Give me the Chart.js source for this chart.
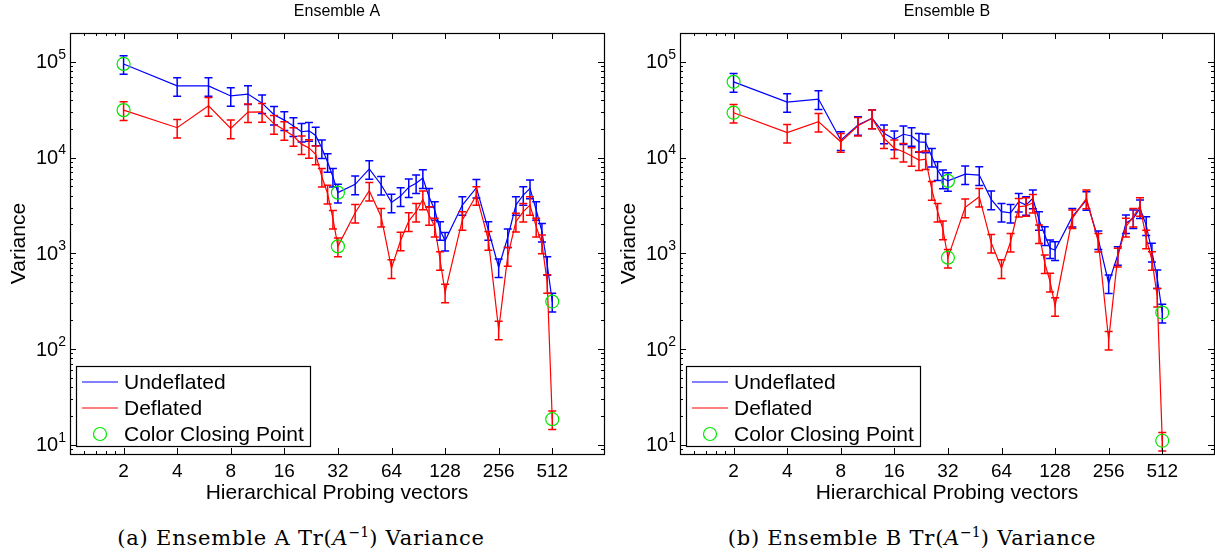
<!DOCTYPE html>
<html>
<head>
<meta charset="utf-8">
<script src="https://cdn.jsdelivr.net/npm/chart.js@4/dist/chart.umd.min.js"></script>
<style>
   body { margin: 0; background: #fff; width: 1215px; height: 554px; position: relative; overflow: hidden; }
   canvas { position: absolute; top: 0; }
   .caption { position: absolute; top: 524px; text-align: center; font-family: "DejaVu Serif", serif; font-size: 21px; letter-spacing: 0.8px; color: #000; white-space: nowrap; }
   .caption sup { font-size: 14px; letter-spacing: 0; }
</style>
</head>
<body>
<canvas id="chartA" width="606" height="515" style="left:0"></canvas>
<canvas id="chartB" width="606" height="515" style="left:610px"></canvas>
<div class="caption" style="left:0; width:602px">(a) Ensemble A Tr(<i>A</i><sup>−1</sup>) Variance</div>
<div class="caption" style="left:610px; width:604px">(b) Ensemble B Tr(<i>A</i><sup>−1</sup>) Variance</div>

<script>
// number of probing vectors at each measurement
const probes = [2, 4, 6, 8, 10, 12, 14, 16, 18, 20, 22, 24, 26, 28, 30, 32,
   40, 48, 56, 64, 72, 80, 88, 96, 104, 112, 120, 128,
   160, 192, 224, 256, 288, 320, 352, 384, 416, 448, 480, 512];
// probe counts where a colouring closes
const closingPoints = [2, 32, 512];
const xTicks = [2, 4, 8, 16, 32, 64, 128, 256, 512];
const xMinorTicks = [1.2, 1.4, 1.6, 1.8];
const yTickExps = [1, 2, 3, 4, 5];

// ensemble A variance
const undeflatedA = [95000, 56000, 56000, 44000, 46000, 37000, 28000, 24600, 21300, 18600, 19000, 17000, 12500, 9000, 6300, 4300,
   5250, 7600, 5200, 3400, 3960, 4900, 5400, 6100, 3900, 2830, 1750, 1350,
   3190, 4840, 1750, 714, 1470, 3190, 4060, 4770, 2830, 1680, 755, 313];
const deflatedA = [31300, 20500, 34700, 20200, 29800, 30000, 22500, 19400, 16800, 13800, 12600, 10800, 6300, 4200, 2300, 1180,
   2650, 4500, 2410, 700, 1360, 2170, 2720, 3660, 2510, 1900, 850, 390,
   2230, 4060, 1380, 160, 940, 2140, 2720, 3190, 1900, 1270, 490, 18.5];

// ensemble B variance
const undeflatedB = [61800, 38000, 40800, 15200, 21900, 25700, 17900, 15500, 17500, 16800, 14600, 14400, 10200, 7400, 6070, 5700,
   6700, 6560, 3660, 2720, 2650, 3460, 3190, 3750, 2230, 1550, 1130, 1080,
   2410, 3600, 1400, 487, 959, 2060, 2320, 2950, 1970, 1040, 548, 240];
const deflatedB = [29400, 18200, 23700, 14600, 21500, 25700, 15900, 12500, 11500, 10400, 9400, 9600, 4600, 2720, 1780, 900,
   3020, 3900, 1290, 700, 1320, 3060, 3120, 3370, 1620, 787, 506, 282,
   2320, 3750, 1320, 125, 923, 1900, 2410, 3120, 1430, 851, 352, 11];

// relative size of the error bars
const errFrac = 0.22;

const sans = "'Liberation Sans', Arial, sans-serif";

// axes box, ticks, labels, error bars and legend drawn in matlab style
const matlabAxes = {
   id: "matlabAxes",
   afterDatasetDraw(chart, args) {
      const ds = chart.data.datasets[args.index];
      if (!ds.errFrac) return;
      const { ctx, chartArea: a } = chart;
      const y = chart.scales.y;
      ctx.save();
      ctx.beginPath();
      ctx.rect(a.left, a.top, a.right - a.left, a.bottom - a.top);
      ctx.clip();
      ctx.strokeStyle = ds.borderColor;
      ctx.lineWidth = 1.5;
      args.meta.data.forEach((pt, i) => {
         const v = ds.data[i].y;
         const top = y.getPixelForValue(v * (1 + ds.errFrac));
         const bot = y.getPixelForValue(v * (1 - ds.errFrac));
         ctx.beginPath();
         ctx.moveTo(pt.x, top);
         ctx.lineTo(pt.x, bot);
         ctx.moveTo(pt.x - 4, top);
         ctx.lineTo(pt.x + 4, top);
         ctx.moveTo(pt.x - 4, bot);
         ctx.lineTo(pt.x + 4, bot);
         ctx.stroke();
      });
      ctx.restore();
   },
   afterDraw(chart, args, opts) {
      const { ctx, chartArea: a } = chart;
      const x = chart.scales.x;
      const y = chart.scales.y;
      const crisp = (v) => Math.round(v) + 0.5;
      ctx.save();

      // box
      ctx.strokeStyle = "#000";
      ctx.lineWidth = 1.2;
      ctx.strokeRect(crisp(a.left), crisp(a.top), Math.round(a.right - a.left), Math.round(a.bottom - a.top));

      // y ticks on both sides
      ctx.lineWidth = 1;
      const yTick = (v, len) => {
         const py = crisp(y.getPixelForValue(v));
         ctx.beginPath();
         ctx.moveTo(a.left, py);
         ctx.lineTo(a.left + len, py);
         ctx.moveTo(a.right, py);
         ctx.lineTo(a.right - len, py);
         ctx.stroke();
      };
      for (let e = 0; e <= 5; e++) {
         for (let k = 1; k <= 9; k++) {
            const v = k * Math.pow(10, e);
            if (v < y.min || v > y.max) continue;
            yTick(v, k === 1 ? 6 : 3);
         }
      }

      // x ticks top and bottom
      const xTick = (v, len) => {
         const px = crisp(x.getPixelForValue(v));
         ctx.beginPath();
         ctx.moveTo(px, a.bottom);
         ctx.lineTo(px, a.bottom - len);
         ctx.moveTo(px, a.top);
         ctx.lineTo(px, a.top + len);
         ctx.stroke();
      };
      xTicks.forEach((v) => xTick(v, 6));
      xMinorTicks.forEach((v) => xTick(v, 3));

      // tick labels
      ctx.fillStyle = "#000";
      ctx.textBaseline = "middle";
      ctx.textAlign = "center";
      ctx.font = "19px " + sans;
      xTicks.forEach((v) => ctx.fillText(String(v), x.getPixelForValue(v), a.bottom + 18));

      yTickExps.forEach((e) => {
         const py = y.getPixelForValue(Math.pow(10, e));
         ctx.font = "14px " + sans;
         const we = ctx.measureText(String(e)).width;
         const ex = a.left - 4 - we;
         ctx.textAlign = "left";
         ctx.fillText(String(e), ex, py - 7);
         ctx.font = "20px " + sans;
         ctx.textAlign = "right";
         ctx.fillText("10", ex, py + 1);
      });

      // axis titles
      ctx.textAlign = "center";
      ctx.font = "21px " + sans;
      ctx.fillText(opts.xTitle, (a.left + a.right) / 2, a.bottom + 39);
      ctx.save();
      ctx.translate(a.left - 51, (a.top + a.bottom) / 2);
      ctx.rotate(-Math.PI / 2);
      ctx.fillText(opts.yTitle, 0, 0);
      ctx.restore();

      // panel title
      ctx.font = "16px " + sans;
      ctx.fillText(opts.title, (a.left + a.right) / 2, 12);

      // legend
      const lx = a.left + 6, ly = a.bottom - 88, lw = 234, lh = 80;
      ctx.fillStyle = "#fff";
      ctx.fillRect(lx, ly, lw, lh);
      ctx.strokeStyle = "#000";
      ctx.lineWidth = 1.2;
      ctx.strokeRect(crisp(lx), crisp(ly), lw, lh);
      ctx.font = "21px " + sans;
      ctx.textAlign = "left";
      chart.data.datasets.forEach((ds, i) => {
         const ry = ly + 16 + i * 26;
         if (ds.showLine === false) {
            ctx.strokeStyle = ds.pointBorderColor;
            ctx.lineWidth = ds.pointBorderWidth;
            ctx.beginPath();
            ctx.arc(lx + 24, ry, ds.pointRadius, 0, Math.PI * 2);
            ctx.stroke();
         } else {
            ctx.strokeStyle = ds.borderColor;
            ctx.lineWidth = 1.2;
            ctx.beginPath();
            ctx.moveTo(lx + 6, ry);
            ctx.lineTo(lx + 42, ry);
            ctx.stroke();
         }
         ctx.fillStyle = "#000";
         ctx.fillText(ds.label, lx + 48, ry + 1);
      });

      ctx.restore();
   },
};

function makeChart(id, title, undeflated, deflated) {
   const points = (vals) => probes.map((p, i) => ({ x: p, y: vals[i] }));
   const closing = (vals) => closingPoints.map((p) => ({ x: p, y: vals[probes.indexOf(p)] }));

   return new Chart(id, {
      type: "line",
      data: {
         datasets: [
            {
               label: "Undeflated",
               data: points(undeflated),
               borderColor: "#0000ff",
               errFrac: errFrac,
               order: 3,
            },
            {
               label: "Deflated",
               data: points(deflated),
               borderColor: "#ff0000",
               errFrac: errFrac,
               order: 2,
            },
            {
               label: "Color Closing Point",
               data: [...closing(undeflated), ...closing(deflated)],
               showLine: false,
               pointRadius: 6.5,
               pointBorderColor: "#00e600",
               pointBackgroundColor: "rgba(0,0,0,0)",
               pointBorderWidth: 1.2,
               order: 1,
            },
         ],
      },
      options: {
         responsive: false,
         animation: false,
         layout: { autoPadding: false, padding: { left: 70, right: 2, top: 33, bottom: 61 } },
         elements: {
            line: { borderWidth: 1.2, tension: 0 },
            point: { radius: 0, hoverRadius: 0 },
         },
         scales: {
            x: { type: "logarithmic", min: 1, max: 1000, display: false },
            y: { type: "logarithmic", min: 8, max: 2e5, display: false },
         },
         plugins: {
            legend: { display: false },
            tooltip: { enabled: false },
            matlabAxes: {
               title: title,
               xTitle: "Hierarchical Probing vectors",
               yTitle: "Variance",
            },
         },
      },
      plugins: [matlabAxes],
   });
}

makeChart("chartA", "Ensemble A", undeflatedA, deflatedA);
makeChart("chartB", "Ensemble B", undeflatedB, deflatedB);
</script>
</body>
</html>
